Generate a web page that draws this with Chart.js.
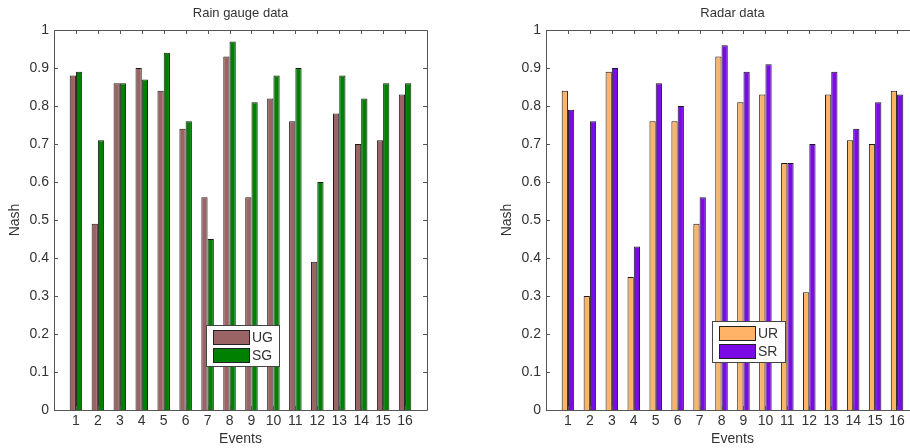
<!DOCTYPE html>
<html>
<head>
<meta charset="utf-8">
<script src="https://cdn.jsdelivr.net/npm/chart.js@4/dist/chart.umd.min.js"></script>
<style>
    html, body { margin: 0; padding: 0; background: #fff; overflow: hidden; width: 910px; height: 448px; }
    .box { position: absolute; top: 0; width: 440px; height: 448px; }
    #box1 { left: 0; }
    #box2 { left: 492px; }
</style>
</head>
<body>
<div class="box" id="box1"><canvas id="rainChart"></canvas></div>
<div class="box" id="box2"><canvas id="radarChart"></canvas></div>
<script>
    // data
    var events = ['1', '2', '3', '4', '5', '6', '7', '8', '9', '10', '11', '12', '13', '14', '15', '16'];
    var ugValues = [0.88, 0.49, 0.86, 0.90, 0.84, 0.74, 0.56, 0.93, 0.56, 0.82, 0.76, 0.39, 0.78, 0.70, 0.71, 0.83];
    var sgValues = [0.89, 0.71, 0.86, 0.87, 0.94, 0.76, 0.45, 0.97, 0.81, 0.88, 0.90, 0.60, 0.88, 0.82, 0.86, 0.86];
    var urValues = [0.84, 0.30, 0.89, 0.35, 0.76, 0.76, 0.49, 0.93, 0.81, 0.83, 0.65, 0.31, 0.83, 0.71, 0.70, 0.84];
    var srValues = [0.79, 0.76, 0.90, 0.43, 0.86, 0.80, 0.56, 0.96, 0.89, 0.91, 0.65, 0.70, 0.89, 0.74, 0.81, 0.83];
    var yTicks = [0, 0.1, 0.2, 0.3, 0.4, 0.5, 0.6, 0.7, 0.8, 0.9, 1];

    var fontFamily = "'Liberation Sans', Arial, sans-serif";
    var textColor = '#333';
    var axisColor = '#555';

    // empty slot at each end so the axis runs from 0 to 17
    function pad(arr) {
        return [null].concat(arr).concat([null]);
    }

    // box, inward ticks, title and legend, matlab style
    var matlabAxes = {
        id: 'matlabAxes',
        afterDraw: function (chart, args, opts) {
            var ctx = chart.ctx;
            var a = chart.chartArea;
            var xs = chart.scales.x;
            var ys = chart.scales.y;
            ctx.save();
            ctx.strokeStyle = axisColor;
            ctx.lineWidth = 1;
            ctx.beginPath();
            ctx.rect(Math.round(a.left) + 0.5, Math.round(a.top) + 0.5, Math.round(a.right - a.left), Math.round(a.bottom - a.top));
            ctx.stroke();

            ctx.beginPath();
            for (var i = 1; i <= events.length; i++) {
                var px = Math.round(xs.getPixelForValue(i)) + 0.5;
                ctx.moveTo(px, a.top); ctx.lineTo(px, a.top + 4);
                ctx.moveTo(px, a.bottom); ctx.lineTo(px, a.bottom - 4);
            }
            yTicks.forEach(function (t) {
                var py = Math.round(ys.getPixelForValue(t)) + 0.5;
                ctx.moveTo(a.left, py); ctx.lineTo(a.left + 4, py);
                ctx.moveTo(a.right, py); ctx.lineTo(a.right - 4, py);
            });
            ctx.stroke();

            // title
            ctx.fillStyle = textColor;
            ctx.font = '13px ' + fontFamily;
            ctx.textAlign = 'center';
            ctx.textBaseline = 'middle';
            ctx.fillText(opts.title, (a.left + a.right) / 2, 13);

            // legend
            var lx = a.left + opts.legendX;
            var ly = opts.legendY;
            ctx.fillStyle = '#fff';
            ctx.fillRect(lx, ly, 73, 41);
            ctx.strokeStyle = '#444';
            ctx.strokeRect(lx + 0.5, ly + 0.5, 73, 41);
            ctx.font = '14px ' + fontFamily;
            ctx.textAlign = 'left';
            chart.data.datasets.forEach(function (ds, k) {
                var py = ly + 5 + k * 18;
                ctx.fillStyle = ds.backgroundColor;
                ctx.fillRect(lx + 7, py, 36, 14);
                ctx.strokeStyle = '#222';
                ctx.strokeRect(lx + 7.5, py + 0.5, 36, 14);
                ctx.fillStyle = textColor;
                ctx.fillText(ds.label, lx + 46, py + 8);
            });
            ctx.restore();
        }
    };

    function makeChart(id, title, names, colors, first, second, legendX, legendY) {
        var ctx = document.getElementById(id);
        return new Chart(ctx, {
            type: 'bar',
            data: {
                labels: pad(events),
                datasets: [{
                    label: names[0],
                    data: pad(first),
                    backgroundColor: colors[0],
                    borderColor: '#1a1a1a',
                    borderWidth: 1
                }, {
                    label: names[1],
                    data: pad(second),
                    backgroundColor: colors[1],
                    borderColor: '#1a1a1a',
                    borderWidth: 1
                }]
            },
            options: {
                responsive: true,
                maintainAspectRatio: false,
                animation: false,
                layout: { padding: { left: 0, right: 13, top: 30, bottom: 0 } },
                datasets: { bar: { categoryPercentage: 0.57, barPercentage: 1 } },
                plugins: {
                    legend: { display: false },
                    tooltip: { enabled: false },
                    matlabAxes: { title: title, legendX: legendX, legendY: legendY }
                },
                scales: {
                    x: {
                        offset: false,
                        grid: { display: false, drawTicks: false },
                        border: { display: false },
                        ticks: {
                            color: textColor, padding: 3, maxRotation: 0, autoSkip: false,
                            font: { family: fontFamily, size: 14 }
                        },
                        title: {
                            display: true, text: 'Events', color: textColor,
                            padding: { top: 0, bottom: 0 },
                            font: { family: fontFamily, size: 14 }
                        },
                        afterFit: function (scale) { scale.height = 38; }
                    },
                    y: {
                        min: 0,
                        max: 1,
                        grid: { display: false, drawTicks: false },
                        border: { display: false },
                        afterBuildTicks: function (scale) {
                            scale.ticks = yTicks.map(function (v) { return { value: v }; });
                        },
                        ticks: {
                            color: textColor, padding: 5,
                            font: { family: fontFamily, size: 14 },
                            callback: function (v) { return String(+Number(v).toFixed(1)); }
                        },
                        title: {
                            display: true, text: 'Nash', color: textColor,
                            padding: { top: 7, bottom: 0 },
                            font: { family: fontFamily, size: 14 }
                        },
                        afterFit: function (scale) { scale.width = 54; }
                    }
                }
            },
            plugins: [matlabAxes]
        });
    }

    makeChart('rainChart', 'Rain gauge data', ['UG', 'SG'], ['#9b6464', '#008000'], ugValues, sgValues, 152, 325);
    makeChart('radarChart', 'Radar data', ['UR', 'SR'], ['#ffb366', '#7a0ae6'], urValues, srValues, 166, 321);
</script>
</body>
</html>
